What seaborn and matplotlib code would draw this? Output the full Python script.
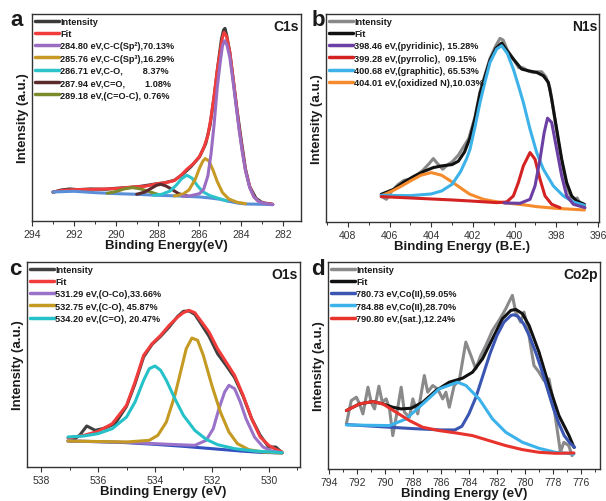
import matplotlib
matplotlib.use("Agg")
import matplotlib.pyplot as plt
from matplotlib.lines import Line2D
from matplotlib.ticker import MultipleLocator
import seaborn as sns

sns.set_theme(style="white")
plt.rcParams['font.family'] = ['Liberation Sans', 'DejaVu Sans']

# ---------------- Panel a : C1s ----------------
A_RAW_X = [293.0, 292.6, 292.2, 291.8, 291.2, 290.5, 290.0, 289.4, 288.8, 288.2, 287.7, 287.2, 286.8, 286.4, 286.0, 285.7, 285.5, 285.3, 285.1, 284.95, 284.85, 284.78, 284.7, 284.55, 284.4, 284.2, 284.0, 283.8, 283.6, 283.3, 283.0, 282.5]
A_RAW_Y = [86, 93, 96, 94, 96, 95, 98, 100, 104, 110, 114, 122, 140, 163, 192, 232, 285, 372, 475, 545, 572, 577, 556, 505, 430, 330, 240, 155, 103, 68, 55, 50]
A_FIT_X = [293.0, 292.5, 292.0, 291.0, 290.0, 289.2, 288.6, 288.0, 287.6, 287.2, 286.9, 286.6, 286.3, 286.0, 285.8, 285.6, 285.45, 285.3, 285.15, 285.0, 284.9, 284.82, 284.7, 284.55, 284.4, 284.25, 284.1, 283.95, 283.8, 283.6, 283.4, 283.2, 283.0, 282.5]
A_FIT_Y = [87, 92, 94, 95, 97, 102, 104, 112, 115, 121, 136, 155, 171, 193, 218, 256, 309, 376, 453, 512, 550, 565, 552, 505, 432, 352, 276, 210, 152, 102, 73, 60, 54, 50]
A_BG_X = [293.0, 292.0, 291.0, 290.0, 289.0, 288.0, 287.0, 286.0, 285.5, 285.0, 284.6, 284.2, 283.8, 283.0, 282.5]
A_BG_Y = [87, 89, 85, 82, 80, 77, 75, 72, 69, 65, 59, 54, 51, 50, 49]
A_P1_X = [286.8, 286.4, 286.0, 285.8, 285.6, 285.45, 285.3, 285.15, 285.0, 284.9, 284.8, 284.7, 284.55, 284.4, 284.25, 284.1, 283.95, 283.8, 283.6, 283.4, 283.2, 283.0, 282.75, 282.5]
A_P1_Y = [74, 76, 82, 95, 135, 200, 290, 400, 480, 525, 540, 530, 490, 420, 345, 270, 205, 150, 100, 72, 60, 54, 51, 49]
A_P2_X = [287.2, 286.8, 286.5, 286.2, 286.0, 285.85, 285.73, 285.55, 285.35, 285.15, 284.9, 284.6, 284.2, 283.8]
A_P2_Y = [75, 80, 93, 125, 158, 178, 187, 180, 152, 118, 85, 66, 56, 52]
A_P3_X = [288.2, 287.8, 287.4, 287.1, 286.85, 286.6, 286.35, 286.1, 285.85, 285.5, 285.1, 284.7]
A_P3_Y = [77, 80, 90, 108, 127, 137, 128, 106, 88, 76, 68, 60]
A_P4_X = [289.0, 288.6, 288.3, 288.05, 287.85, 287.6, 287.3, 287.0, 286.6]
A_P4_Y = [80, 87, 98, 107, 110, 105, 94, 82, 75]
A_P5_X = [290.4, 290.0, 289.6, 289.2, 288.8, 288.4, 288.0]
A_P5_Y = [83, 88, 96, 100, 96, 88, 80]
A_LABELS = ["Intensity", "Fit", "284.80 eV,C-C(Sp\u00b2),70.13%", "285.76 eV,C-C(Sp\u00b3),16.29%",
            "286.71 eV,C-O,        8.37%", "287.94 eV,C=O,        1.08%", "289.18 eV,(C=O-C), 0.76%"]

# ---------------- Panel b : N1s ----------------
B_RAW_X = [406.35, 406.15, 405.9, 405.6, 405.3, 405.0, 404.7, 404.4, 404.1, 403.9, 403.7, 403.45, 403.2, 403.0, 402.7, 402.45, 402.2, 401.9, 401.66, 401.4, 401.18, 400.9, 400.7, 400.55, 400.35, 400.06, 399.8, 399.6, 399.34, 399.1, 398.9, 398.7, 398.5, 398.3, 398.1, 397.9, 397.7, 397.5, 397.3, 397.1, 397.0, 396.85, 396.65]
B_RAW_Y = [75, 68, 92, 112, 125, 128, 140, 155, 175, 190, 175, 158, 172, 180, 200, 225, 250, 315, 390, 445, 490, 528, 550, 545, 515, 488, 462, 462, 452, 448, 450, 450, 435, 400, 320, 240, 170, 110, 75, 68, 72, 55, 45]
B_FIT_X = [406.4, 405.8, 405.3, 404.8, 404.3, 403.9, 403.5, 403.0, 402.7, 402.4, 402.14, 401.9, 401.66, 401.4, 401.18, 400.9, 400.62, 400.35, 400.06, 399.66, 399.34, 398.94, 398.62, 398.38, 398.22, 397.98, 397.74, 397.5, 397.26, 397.02, 396.65]
B_FIT_Y = [83, 98, 120, 138, 153, 163, 168, 172, 182, 210, 252, 310, 385, 440, 485, 520, 536, 512, 488, 458, 453, 448, 438, 418, 368, 278, 188, 118, 78, 63, 53]
B_ORANGE_X = [406.4, 405.9, 405.5, 405.0, 404.5, 404.0, 403.5, 403.0, 402.5, 402.14, 401.5, 401.0, 400.54, 399.5, 398.94, 398.0, 396.65]
B_ORANGE_Y = [78, 92, 105, 123, 140, 148, 140, 120, 98, 83, 68, 62, 58, 51, 46, 41, 36]
B_CYAN_X = [406.4, 405.0, 404.0, 403.5, 403.0, 402.6, 402.3, 402.14, 401.9, 401.66, 401.4, 401.18, 400.86, 400.62, 400.35, 400.06, 399.8, 399.58, 399.26, 398.94, 398.62, 398.14, 397.66, 397.18, 396.65]
B_CYAN_Y = [80, 79, 84, 93, 113, 150, 190, 218, 285, 358, 425, 478, 518, 528, 505, 458, 405, 358, 278, 208, 158, 108, 78, 60, 50]
B_RED_X = [406.4, 405.0, 404.0, 403.0, 402.14, 400.86, 400.38, 400.06, 399.82, 399.58, 399.26, 399.02, 398.78, 398.54, 398.22, 397.82]
B_RED_Y = [76, 72, 69, 66, 63, 58, 60, 78, 118, 168, 208, 188, 128, 78, 53, 43]
B_PURPLE_X = [400.5, 399.74, 399.26, 399.02, 398.78, 398.58, 398.42, 398.22, 397.98, 397.74, 397.5, 397.18, 396.62]
B_PURPLE_Y = [57, 56, 68, 108, 188, 268, 311, 298, 218, 138, 78, 53, 43]
B_LABELS = ["Intensity", "Fit", "398.46 eV,(pyridinic), 15.28%", "399.28 eV,(pyrrolic),  09.15%",
            "400.68 eV,(graphitic), 65.53%", "404.01 eV,(oxidized N),10.03%"]

# ---------------- Panel c : O1s ----------------
C_RAW_X = [536.95, 536.65, 536.4, 536.1, 535.75, 535.4, 535.0, 534.7, 534.4, 534.1, 533.8, 533.5, 533.2, 533.0, 532.8, 532.6, 532.4, 532.1, 531.8, 531.5, 531.2, 530.9, 530.6, 530.3, 530.0, 529.75, 529.53]
C_RAW_Y = [77, 95, 123, 110, 117, 130, 182, 250, 330, 368, 392, 420, 452, 467, 468, 458, 432, 392, 340, 305, 268, 212, 145, 95, 60, 60, 43]
C_FIT_X = [537.06, 536.5, 536.0, 535.5, 535.0, 534.7, 534.4, 534.1, 533.8, 533.5, 533.2, 533.0, 532.8, 532.6, 532.4, 532.1, 531.8, 531.5, 531.2, 530.9, 530.6, 530.3, 530.0, 529.8, 529.53]
C_FIT_Y = [87, 95, 107, 130, 185, 255, 335, 370, 395, 425, 450, 463, 470, 463, 440, 405, 355, 315, 275, 215, 145, 90, 65, 55, 45]
C_BG_X = [537.06, 536.0, 535.0, 534.0, 533.0, 532.0, 531.0, 530.3, 529.53]
C_BG_Y = [78, 76, 73, 68, 62, 55, 48, 44, 42]
C_PURPLE_X = [537.06, 535.0, 533.5, 532.6, 532.2, 531.95, 531.75, 531.55, 531.4, 531.2, 531.0, 530.8, 530.5, 530.2, 529.9, 529.53]
C_PURPLE_Y = [78, 74, 68, 65, 80, 115, 175, 225, 245, 235, 195, 145, 90, 60, 48, 43]
C_GOLD_X = [537.06, 535.0, 534.2, 533.9, 533.6, 533.3, 533.1, 532.9, 532.7, 532.5, 532.3, 532.0, 531.7, 531.4, 531.1, 530.7, 530.2, 529.53]
C_GOLD_Y = [78, 75, 80, 95, 135, 215, 285, 355, 387, 380, 335, 245, 165, 105, 70, 52, 45, 42]
C_CYAN_X = [537.06, 536.5, 536.0, 535.5, 535.0, 534.7, 534.4, 534.2, 534.0, 533.8, 533.6, 533.3, 533.0, 532.6, 532.2, 531.8, 531.2, 530.5, 529.53]
C_CYAN_Y = [90, 93, 100, 115, 150, 195, 260, 295, 303, 290, 260, 205, 155, 110, 83, 67, 55, 48, 43]
C_LABELS = ["Intensity", "Fit", "531.29 eV,(O-Co),33.66%", "532.75 eV,(C-O), 45.87%", "534.20 eV,(C=O), 20.47%"]

# ---------------- Panel d : Co2p ----------------
D_RAW_X = [792.74, 792.39, 792.03, 791.80, 791.56, 791.20, 790.97, 790.73, 790.42, 790.18,
           789.90, 789.66, 789.43, 789.19, 788.83, 788.60, 788.24, 788.00, 787.65, 787.18,
           786.94, 786.58, 786.23, 785.87, 785.64, 785.40, 785.05, 784.69, 784.22, 783.86,
           783.51, 783.15, 782.79, 782.32, 781.85, 781.37, 781.14, 780.90, 780.66, 780.31,
           780.07, 779.83, 779.60, 779.36, 779.00, 778.65, 778.29, 778.06, 777.71, 777.47,
           777.23, 776.88, 776.64]
D_RAW_Y = [135, 205, 215, 195, 165, 245, 200, 180, 248, 200,
           210, 180, 100, 155, 245, 170, 155, 210, 165, 280,
           230, 250, 240, 210, 230, 185, 250, 265, 380, 340,
           300, 340, 370, 415, 445, 480, 500, 520, 470, 440,
           470, 430, 370, 310, 290, 265, 270, 220, 120, 50,
           80, 70, 40]
D_FIT_X = [792.74, 791.80, 790.85, 790.14, 789.43, 788.83, 788.12, 787.29, 786.35, 785.40, 784.45, 783.74, 783.03, 782.32, 781.61, 781.01, 780.66, 780.18, 779.71, 779.00, 778.29, 777.58, 776.86, 776.51]
D_FIT_Y = [175, 195, 202, 195, 185, 180, 182, 200, 235, 260, 272, 290, 330, 390, 450, 475, 478, 465, 430, 350, 250, 160, 100, 65]
D_DBLUE_X = [792.70, 790.0, 788.0, 786.0, 785.0, 784.5, 784.0, 783.5, 783.0, 782.5, 782.0, 781.5, 781.0, 780.8, 780.5, 780.1, 779.7, 779.2, 778.8, 778.4, 778.0, 777.6, 777.2, 776.8, 776.46]
D_DBLUE_Y = [133, 126, 121, 117, 117, 128, 165, 215, 280, 345, 400, 440, 460, 462, 457, 435, 400, 345, 295, 240, 185, 138, 100, 78, 65]
D_LBLUE_X = [792.74, 789.66, 788.48, 787.29, 786.11, 784.81, 784.21, 783.27, 782.32, 781.37, 780.18, 779.00, 777.82, 776.51]
D_LBLUE_Y = [132, 130, 150, 195, 240, 260, 250, 210, 150, 110, 80, 62, 50, 45]
D_RED_X = [792.74, 791.80, 790.85, 790.14, 789.19, 788.24, 787.29, 786.11, 784.93, 783.74, 782.56, 781.37, 780.18, 779.00, 777.82, 776.51]
D_RED_Y = [175, 195, 202, 195, 170, 145, 125, 115, 108, 100, 85, 70, 58, 50, 47, 48]
D_LABELS = ["Intensity", "Fit", "780.73 eV,Co(II),59.05%", "784.88 eV,Co(II),28.70%", "790.80 eV,(sat.),12.24%"]

W, H = 606, 502
fig = plt.figure(figsize=(W / 100, H / 100), dpi=100)
fig.patch.set_facecolor("white")

LW = 2.2
BOLD = dict(fontweight="bold", color="#1a1a1a")


def make_ax(l, r, t, b):
    return fig.add_axes([l / W, 1 - b / H, (r - l) / W, (b - t) / H])


def draw(ax, x, y, color, lw=LW):
    sns.lineplot(x=x, y=y, ax=ax, color=color, linewidth=lw, sort=False,
                 estimator=None, legend=False)


def style(ax, xlim, ylim, majors, xlabel, tag, labels, colors, letter, lx, ly):
    ax.set_xlim(*xlim)
    ax.set_ylim(*ylim)
    ax.set_xticks(majors)
    ax.set_xticklabels([str(m) for m in majors])
    ax.xaxis.set_minor_locator(MultipleLocator(1))
    ax.tick_params(axis="x", which="major", direction="out", length=3.5, width=0.8,
                   colors="#333333", labelsize=7.5, pad=2, bottom=True, top=False)
    ax.tick_params(axis="x", which="minor", direction="out", length=2.2, width=0.7,
                   colors="#333333", bottom=True, top=False)
    ax.set_yticks([])
    for s in ax.spines.values():
        s.set_color("#333333")
        s.set_linewidth(1.0)
    ax.set_xlabel(xlabel, fontsize=9.5, labelpad=0, **BOLD)
    ax.set_ylabel("Intensity (a.u.)", fontsize=9.5, labelpad=2, **BOLD)
    ax.text(0.993, 0.975, tag, transform=ax.transAxes, ha="right", va="top",
            fontsize=10, **BOLD)
    handles = [Line2D([], [], color=c, lw=2.5) for c in colors]
    leg = ax.legend(handles, labels, loc="upper left", bbox_to_anchor=(0.0, 1.0),
                    frameon=False, fontsize=6.6, handlelength=2.6, handletextpad=0.2,
                    labelspacing=0.36, borderaxespad=0.05, borderpad=0.25)
    for t in leg.get_texts():
        t.set_fontweight("bold")
        t.set_color("#1a1a1a")
    fig.text(lx / W, 1 - ly / H, letter, ha="center", va="center", fontsize=16, **BOLD)


# ---- a ----
ax = make_ax(32, 301, 15, 222)
ca = ["#3a3a3a", "#f23b3b", "#9a6cc2", "#c79a26", "#2cc3cb", "#5c2b2e", "#7c8a2c"]
draw(ax, A_RAW_X, A_RAW_Y, ca[0])
draw(ax, A_FIT_X, A_FIT_Y, ca[1])
draw(ax, A_BG_X, A_BG_Y, "#5a8fd8")
draw(ax, A_P5_X, A_P5_Y, ca[6])
draw(ax, A_P4_X, A_P4_Y, ca[5])
draw(ax, A_P3_X, A_P3_Y, ca[4])
draw(ax, A_P2_X, A_P2_Y, ca[3])
draw(ax, A_P1_X, A_P1_Y, ca[2])
style(ax, (294, 281.15), (0, 620), [294, 292, 290, 288, 286, 284, 282],
      "Binding Energy(eV)", "C1s", A_LABELS, ca, "a", 17, 21)

# ---- b ----
ax = make_ax(326, 599, 15, 223)
cb = ["#888888", "#111111", "#6b3fa3", "#d42222", "#3db2e8", "#f58b2c"]
draw(ax, B_RAW_X, B_RAW_Y, cb[0])
draw(ax, B_FIT_X, B_FIT_Y, cb[1])
draw(ax, B_ORANGE_X, B_ORANGE_Y, cb[5])
draw(ax, B_CYAN_X, B_CYAN_Y, cb[4])
draw(ax, B_RED_X, B_RED_Y, cb[3])
draw(ax, B_PURPLE_X, B_PURPLE_Y, cb[2])
style(ax, (409.05, 395.95), (0, 623), [408, 406, 404, 402, 400, 398, 396],
      "Binding Energy (B.E.)", "N1s", B_LABELS, cb, "b", 318, 21)

# ---- c ----
ax = make_ax(27, 300, 263, 468)
cc = ["#404040", "#f23b3b", "#9a72c9", "#c49a22", "#25c1c9"]
draw(ax, C_RAW_X, C_RAW_Y, cc[0])
draw(ax, C_FIT_X, C_FIT_Y, cc[1])
draw(ax, C_BG_X, C_BG_Y, "#3350c0")
draw(ax, C_PURPLE_X, C_PURPLE_Y, cc[2])
draw(ax, C_GOLD_X, C_GOLD_Y, cc[3])
draw(ax, C_CYAN_X, C_CYAN_Y, cc[4])
style(ax, (538.5, 528.9), (0, 615), [538, 536, 534, 532, 530],
      "Binding Energy (eV)", "O1s", C_LABELS, cc, "c", 15, 270)

# ---- d ----
ax = make_ax(328, 600, 263, 470)
cd = ["#8a8a8a", "#111111", "#3a55b2", "#3cb2ea", "#e8322c"]
draw(ax, D_RAW_X, D_RAW_Y, cd[0])
draw(ax, D_FIT_X, D_FIT_Y, cd[1])
draw(ax, D_DBLUE_X, D_DBLUE_Y, cd[2])
draw(ax, D_LBLUE_X, D_LBLUE_Y, cd[3])
draw(ax, D_RED_X, D_RED_Y, cd[4])
style(ax, (794.05, 774.65), (0, 620), [794, 792, 790, 788, 786, 784, 782, 780, 778, 776],
      "Binding Energy (eV)", "Co2p", D_LABELS, cd, "d", 318, 270)

fig.savefig("out.png", dpi=100, facecolor="white")
